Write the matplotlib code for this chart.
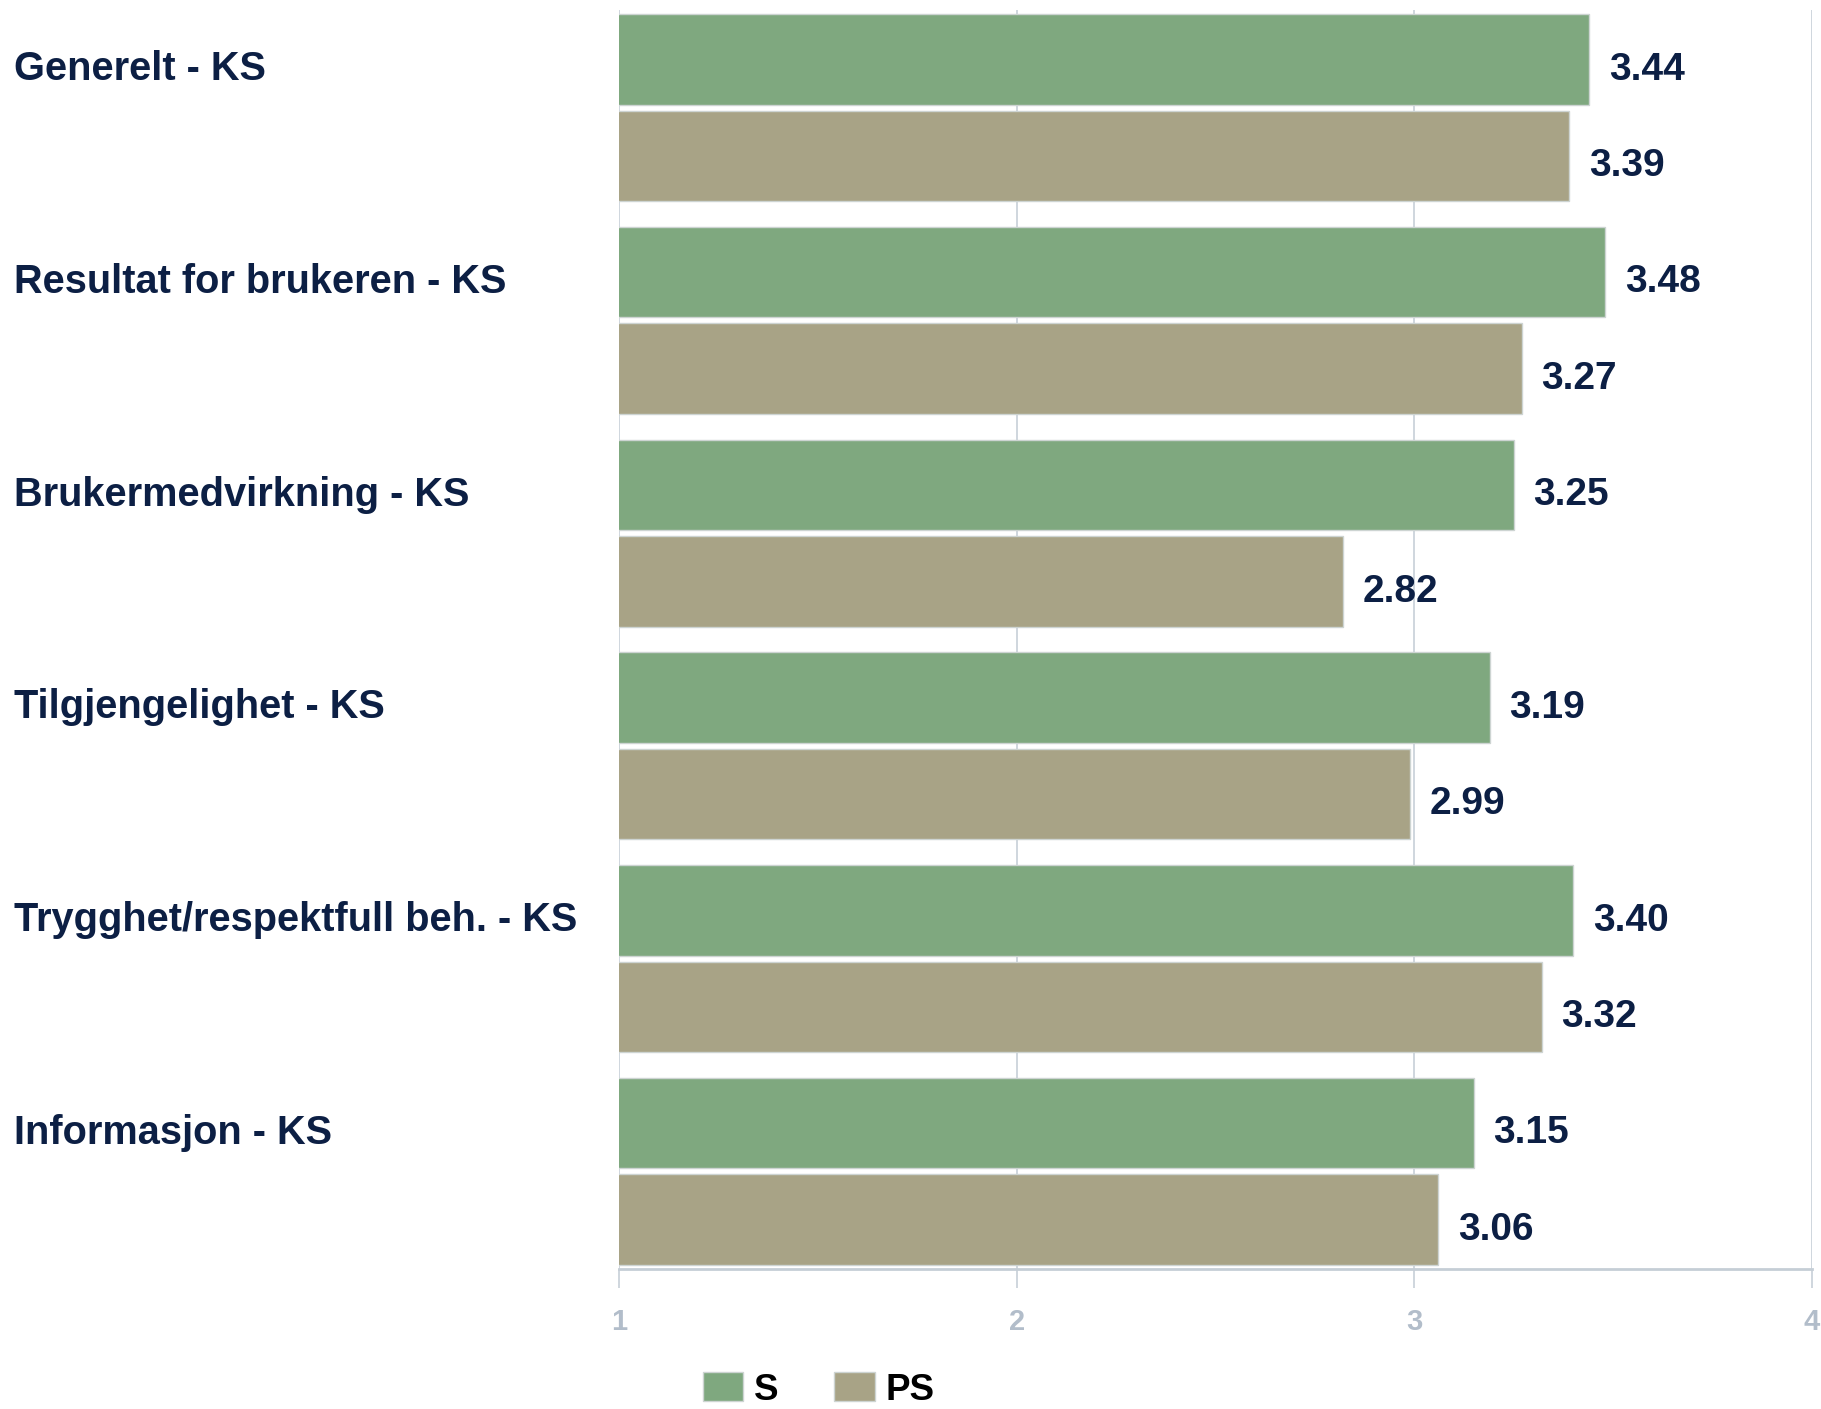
import numpy as np
import matplotlib
matplotlib.use("Agg")
import matplotlib.pyplot as plt

plt.rcParams['font.family'] = ['Liberation Sans', 'DejaVu Sans']

categories = [
    "Generelt - KS",
    "Resultat for brukeren - KS",
    "Brukermedvirkning - KS",
    "Tilgjengelighet - KS",
    "Trygghet/respektfull beh. - KS",
    "Informasjon - KS",
]
s_values = [3.44, 3.48, 3.25, 3.19, 3.40, 3.15]
ps_values = [3.39, 3.27, 2.82, 2.99, 3.32, 3.06]
series_names = ["S", "PS"]
x_ticks = [1, 2, 3, 4]

green = "#7fa87f"
tan = "#a8a386"
navy = "#0c1f44"
grid_col = "#cbd3db"
tick_col = "#b2bdca"

W, H = 1821, 1409
fig = plt.figure(figsize=(W / 100, H / 100), dpi=100)
ax = fig.add_axes([619 / W, 1 - 1269 / H, (1812 - 619) / W, (1269 - 10) / H])

bar_h = 0.4255
off = 0.2268
y = np.arange(len(categories))

b1 = ax.barh(y - off, s_values, height=bar_h, color=green, edgecolor="#cdd4d2", linewidth=1, zorder=2)
b2 = ax.barh(y + off, ps_values, height=bar_h, color=tan, edgecolor="#cdd4d2", linewidth=1, zorder=2)

ax.set_xlim(1, 4)
ax.set_ylim(5.4583, -0.4583)

# value labels
for bars, vals in ((b1, s_values), (b2, ps_values)):
    for rect, v in zip(bars, vals):
        yc = rect.get_y() + rect.get_height() / 2
        ax.annotate(f"{v:.2f}", xy=(v, yc), xytext=(14.0, -14.6), textcoords="offset points",
                    ha="left", va="baseline", fontsize=28, fontweight="bold", color=navy)

# category labels on the far left
for i, name in enumerate(categories):
    ax.annotate(name, xy=(14, i - off), xycoords=("figure pixels", "data"),
                xytext=(0, -15), textcoords="offset points",
                ha="left", va="baseline", fontsize=28.6, fontweight="bold", color=navy,
                annotation_clip=False)

ax.set_yticks([])
ax.set_xticks(x_ticks)
ax.set_xticklabels([str(t) for t in x_ticks])
ax.tick_params(axis="x", direction="out", length=13.7, width=1.3, color=grid_col,
               labelsize=21, labelcolor=tick_col, pad=14.5)
for lab in ax.get_xticklabels():
    lab.set_fontweight("bold")

ax.grid(axis="x", color=grid_col, linewidth=1.3, zorder=0)
ax.set_axisbelow(True)
for side in ("top", "right", "left"):
    ax.spines[side].set_visible(False)
ax.spines["bottom"].set_color("#c5ced6")
ax.spines["bottom"].set_linewidth(2)

# legend sits right at the bottom edge, as in the original
fig.legend([b1, b2], series_names, loc="center left", bbox_to_anchor=(703 / W, 1 - 1390 / H),
           ncol=2, frameon=False, prop={"weight": "bold", "size": 26.5},
           handlelength=1.1, handleheight=0.84, handletextpad=0.28, columnspacing=1.52,
           borderpad=0, borderaxespad=0)

fig.savefig("out.png", dpi=100)
